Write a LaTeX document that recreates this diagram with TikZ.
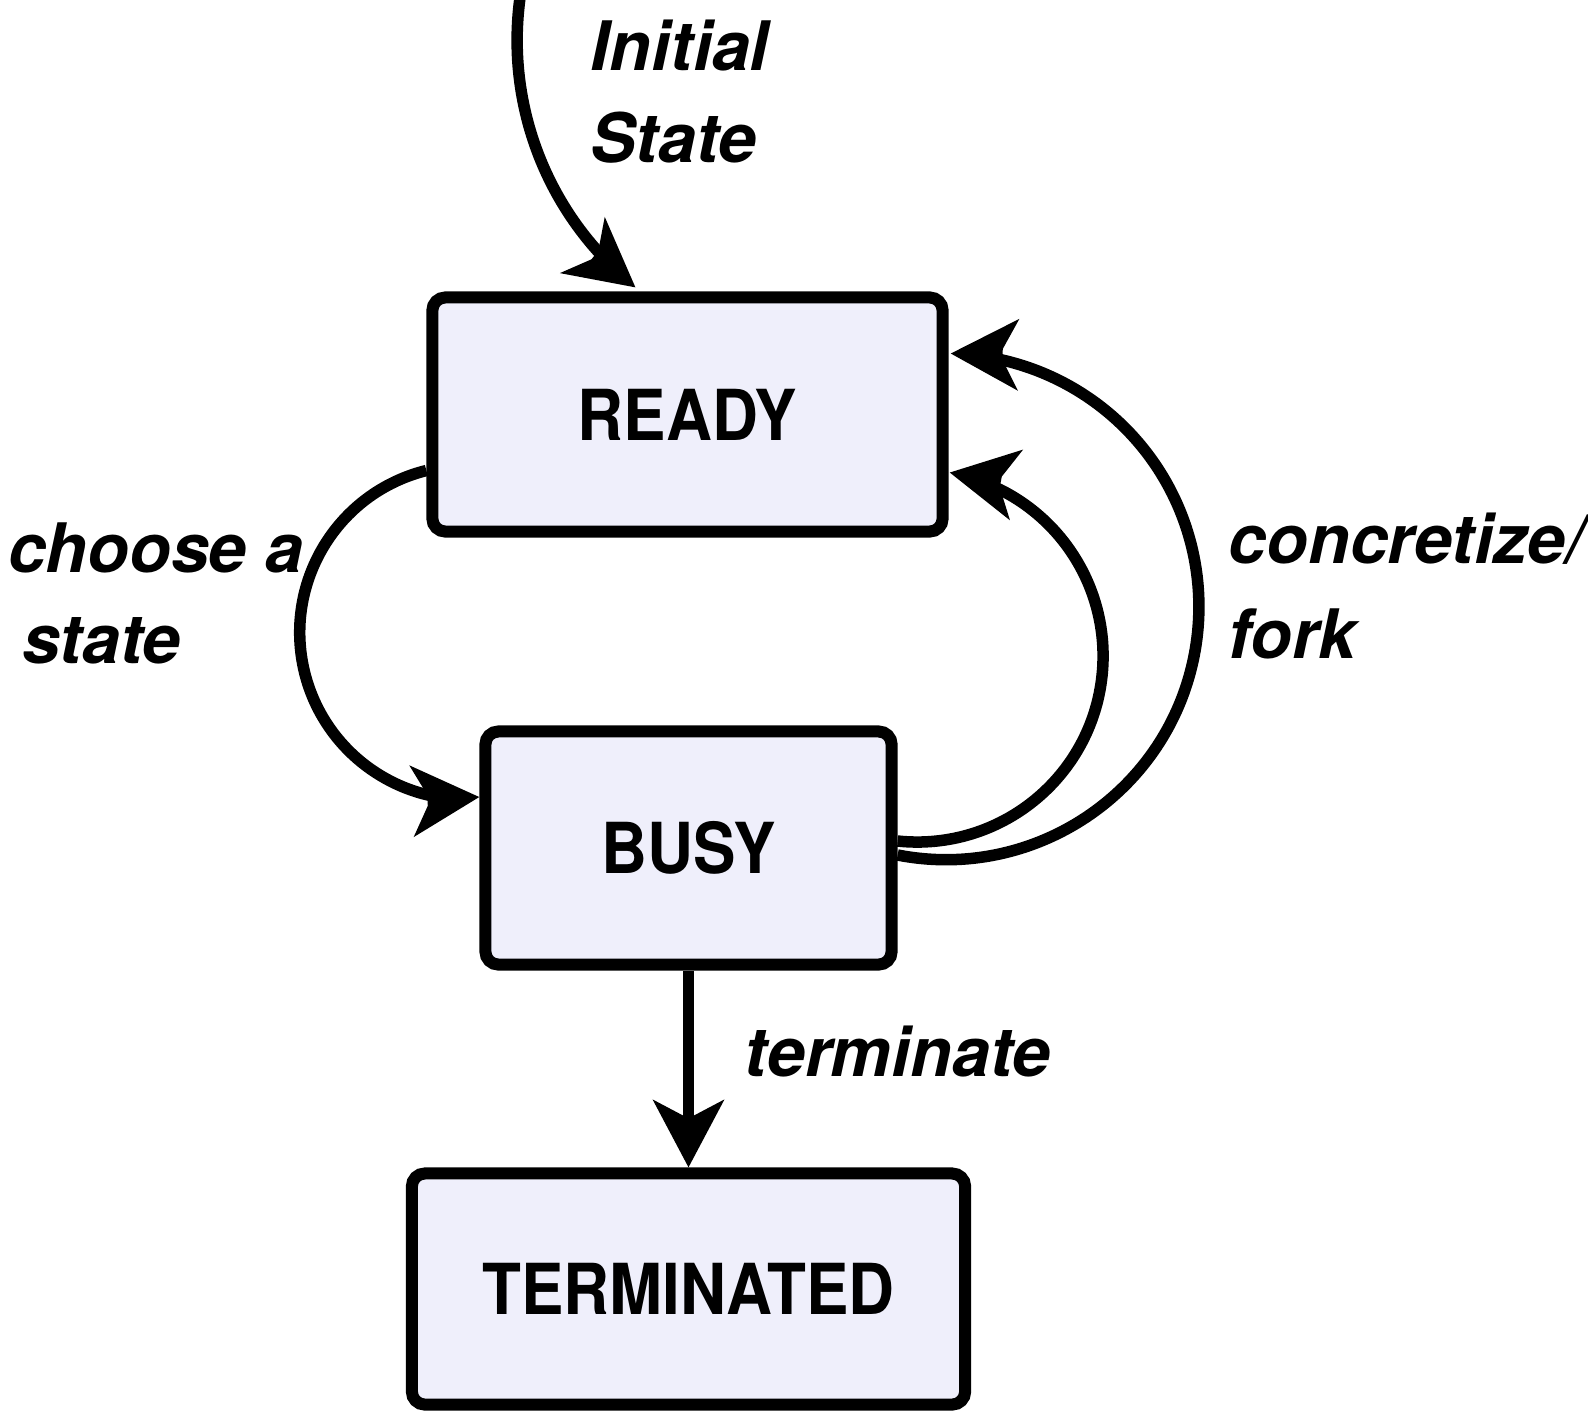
\documentclass[tikz,border=0pt]{standalone}
\usepackage{fontspec}
\setmainfont{TeX Gyre Heros}
\newfontfamily\boxfont[FakeStretch=0.905]{TeX Gyre Heros}
\usetikzlibrary{arrows.meta,calc}
\definecolor{boxfill}{RGB}{239,239,251}
\begin{document}
\begin{tikzpicture}[x=0.01cm,y=-0.01cm,
  state/.style={draw=black, line width=0.12cm, rounded corners=0.13cm, fill=boxfill,
    inner sep=0pt, font=\boxfont\bfseries\fontsize{20}{24}\selectfont},
  conn/.style={line width=0.115cm, -{Stealth[length=0.67cm,width=0.70cm,inset=0.18cm]}},
  lbl/.style={font=\bfseries\itshape\fontsize{19.4}{25}\selectfont, inner sep=0pt, anchor=base west}]
\useasboundingbox (0,0) rectangle (1588,1417);
\node[state, minimum width=5.10cm, minimum height=2.34cm] (ready) at (687.5,414.5) {READY};
\node[state, minimum width=4.06cm, minimum height=2.33cm] (busy) at (688.5,848) {BUSY};
\node[state, minimum width=5.53cm, minimum height=2.31cm] (term) at (688.5,1289) {TERMINATED};
% initial transition
\coordinate (initstart) at (521,-9);
\draw[conn] (initstart) arc[start angle=189, end angle=135.85, radius=316]
  ($(ready.north)+(-52,-4)+(-40.6,-32.4)$) -- ($(ready.north)+(-52,-4)$);
% choose a state
\draw[conn] ($(ready.west)+(0,56)$) arc[start angle=256, end angle=100.2, radius=167]
  ($(busy.west)+(0,-51)+(-51.9,3.2)$) -- ($(busy.west)+(0,-51)$);
% concretize/fork (inner)
\draw[conn] ($(busy.east)+(0,-7)$) arc[start angle=96, end angle=-67.2, radius=186]
  ($(ready.east)+(1,58)+(51.1,9.5)$) -- ($(ready.east)+(1,58)$);
% concretize/fork (outer)
\draw[conn] ($(busy.east)+(0,7)$) arc[start angle=101, end angle=-79.84, radius=253]
  ($(ready.east)+(2,-61)+(52,1)$) -- ($(ready.east)+(2,-61)$);
% terminate
\draw[conn] (busy.south) -- (term.north);
\node[lbl] (init1) at (590,70) {Initial};
\node[lbl] (init2) at (590,162) {State};
\node[lbl] (choose1) at (8,572) {choose a};
\node[lbl] (choose2) at (22,663) {state};
\node[lbl] (conc1) at (1228,563) {concretize/};
\node[lbl] (conc2) at (1228,658) {fork};
\node[lbl] (termlbl) at (744,1076) {terminate};
\end{tikzpicture}
\end{document}
